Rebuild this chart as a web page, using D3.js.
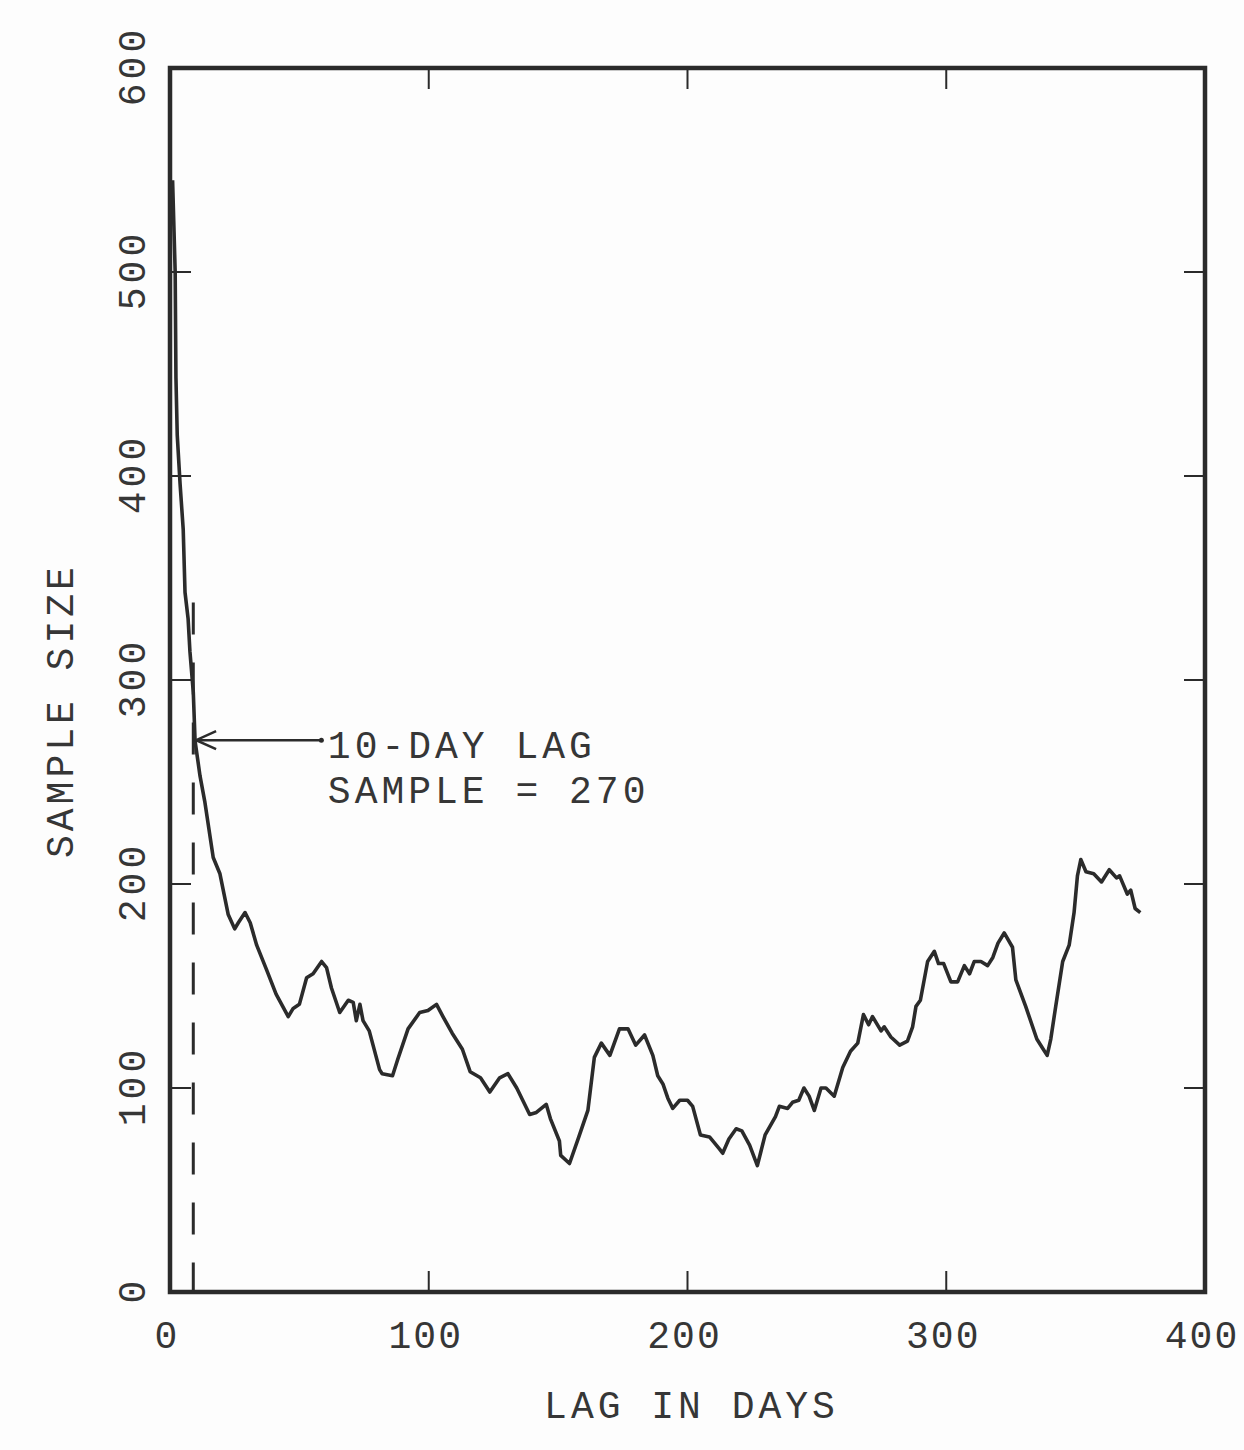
<!DOCTYPE html>
<html>
<head>
<meta charset="utf-8">
<script src="https://cdn.jsdelivr.net/npm/d3@7"></script>
<style>
  html, body { margin: 0; padding: 0; background: #fdfdfd; }
  svg { display: block; }
  text { font-family: "Liberation Mono", "DejaVu Sans Mono", monospace; fill: #363636; }
</style>
</head>
<body>
<script>
// ---- Data ----
const lagDays = [1,2,2.3,2.8,3.9,5.1,5.8,7,7.7,9,9.7,11.6,13.5,16.7,19.3,22.5,25,26.4,29,31,33.5,37.3,41,45.7,47.6,50,52.8,55.3,58.6,60.5,62.4,65.6,68.9,70.8,72,73.4,74.6,77,81,82,86,88,92,96.5,99.7,103,105.5,109,113,116,120,123.6,127.4,130.6,134,139,141.6,145.4,147,150.5,151,154.4,158,161.5,164,166.7,170,173.7,177,180,183.4,186.6,188.5,190.5,192.4,194.3,197,200,202,205,208.5,212.4,213.6,216,218.8,221,224,227,230,234,235.5,238.7,240.6,243,245,247,249,251.6,253.5,256.7,260,263,265.8,268,270,271.5,274.8,276,278.6,282,285,287,288.3,290,292.8,295.4,297,299,301.8,304.4,307,309,310.8,313.4,316,318,320,322.4,325.6,326.9,330.7,335,337,339,340.4,342.3,345,347.5,349.4,350.7,352,354,357,360,363,365.8,367,370,371.3,373,375];
const sampleSize = [545,500,448,420,396,374,343,330,314,294,270,253,240,213,205,185,178,181,186,181,170,158,146,135,139,141,154,156,162,159,149,137,143,142,133,141,133,128,109,107,106,114,129,137,138,141,135,127,119,108,105,98,105,107,100,87,88,92,85,74,67,63,76,89,115,122,116,129,129,121,126,116,106,102,95,90,94,94,91,77,76,70,68,75,80,79,72,62,77,86,91,90,93,94,100,96,89,100,100,96,110,118,122,136,131,135,128,130,125,121,123,130,140,143,162,167,161,161,152,152,160,156,162,162,160,164,171,176,169,153,140,124,120,116,124,140,162,170,186,204,212,206,205,201,207,203,204,195,197,188,186];
const xTicks = [0,100,200,300,400];
const yTicks = [0,100,200,300,400,500,600];
const innerXTicks = [100,200,300];
const innerYTicks = [100,200,300,400,500];
const markedLag = 9;         // dashed reference line position (10-day lag mark)
const markedTop = 338;       // top of dashed line
const annotLag = 9.7, annotValue = 270;
const annotLines = ["10-DAY LAG", "SAMPLE = 270"];
const xTitle = "LAG IN DAYS", yTitle = "SAMPLE SIZE";

// ---- Layout ----
const W = 1244, H = 1450;
const x = d3.scaleLinear().domain([0, 400]).range([170, 1205]);
const y = d3.scaleLinear().domain([0, 600]).range([1292, 68]);
const ink = "#2b2b2b";

const svg = d3.select("body").append("svg").attr("width", W).attr("height", H);
svg.append("rect").attr("width", W).attr("height", H).attr("fill", "#fdfdfd");

// inner ticks
const tickLen = 21;
svg.append("g").selectAll("line").data(innerYTicks).join("line")
  .attr("x1", x(0)).attr("x2", x(0) + tickLen).attr("y1", d => y(d)).attr("y2", d => y(d))
  .attr("stroke", ink).attr("stroke-width", 2);
svg.append("g").selectAll("line").data(innerYTicks).join("line")
  .attr("x1", x(400)).attr("x2", x(400) - tickLen).attr("y1", d => y(d)).attr("y2", d => y(d))
  .attr("stroke", ink).attr("stroke-width", 2);
svg.append("g").selectAll("line").data(innerXTicks).join("line")
  .attr("x1", d => x(d)).attr("x2", d => x(d)).attr("y1", y(0)).attr("y2", y(0) - tickLen)
  .attr("stroke", ink).attr("stroke-width", 2);
svg.append("g").selectAll("line").data(innerXTicks).join("line")
  .attr("x1", d => x(d)).attr("x2", d => x(d)).attr("y1", y(600)).attr("y2", y(600) + tickLen)
  .attr("stroke", ink).attr("stroke-width", 2);

// frame
svg.append("rect").attr("x", x(0)).attr("y", y(600))
  .attr("width", x(400) - x(0)).attr("height", y(0) - y(600))
  .attr("fill", "none").attr("stroke", ink).attr("stroke-width", 4.5);

// tick labels
const fs = 38, ls = 4, tls = 2;
svg.append("g").selectAll("text").data(xTicks).join("text")
  .attr("x", d => x(d) - 3).attr("y", 1348)
  .attr("text-anchor", "middle").attr("font-size", fs).attr("letter-spacing", tls)
  .text(d => d);
svg.append("g").selectAll("text").data(yTicks).join("text")
  .attr("transform", d => `translate(145,${y(d) - ls / 2}) rotate(-90)`)
  .attr("text-anchor", "middle").attr("font-size", fs).attr("letter-spacing", ls)
  .text(d => d);

// axis titles
svg.append("text").attr("x", (x(0) + x(400)) / 2 + 4).attr("y", 1418)
  .attr("text-anchor", "middle").attr("font-size", fs).attr("letter-spacing", ls)
  .text(xTitle);
svg.append("text").attr("transform", `translate(73,${y(285)}) rotate(-90)`)
  .attr("text-anchor", "middle").attr("font-size", fs).attr("letter-spacing", ls)
  .text(yTitle);

// dashed reference line
svg.append("line")
  .attr("x1", x(markedLag)).attr("x2", x(markedLag))
  .attr("y1", y(markedTop)).attr("y2", y(0))
  .attr("stroke", ink).attr("stroke-width", 3).attr("stroke-dasharray", "32,28");

// curve
const pts = lagDays.map((d, i) => [d, sampleSize[i]]);
const line = d3.line().x(d => x(d[0])).y(d => y(d[1]));
svg.append("path").datum(pts).attr("d", line)
  .attr("fill", "none").attr("stroke", ink).attr("stroke-width", 3.6)
  .attr("stroke-linejoin", "round");

// annotation arrow
const ax0 = x(annotLag) + 1, ay = y(annotValue) - 1, ax1 = x(58.5);
svg.append("line").attr("x1", ax0).attr("x2", ax1).attr("y1", ay).attr("y2", ay)
  .attr("stroke", ink).attr("stroke-width", 2.5);
svg.append("path")
  .attr("d", `M${ax0 + 20},${ay - 9} L${ax0},${ay} L${ax0 + 20},${ay + 9}`)
  .attr("fill", "none").attr("stroke", ink).attr("stroke-width", 2.5);
svg.append("circle").attr("cx", ax1).attr("cy", ay).attr("r", 2.5).attr("fill", ink);

svg.append("g").selectAll("text").data(annotLines).join("text")
  .attr("x", x(61)).attr("y", (d, i) => y(262) + i * 45)
  .attr("font-size", fs).attr("letter-spacing", ls)
  .text(d => d);
</script>
</body>
</html>
